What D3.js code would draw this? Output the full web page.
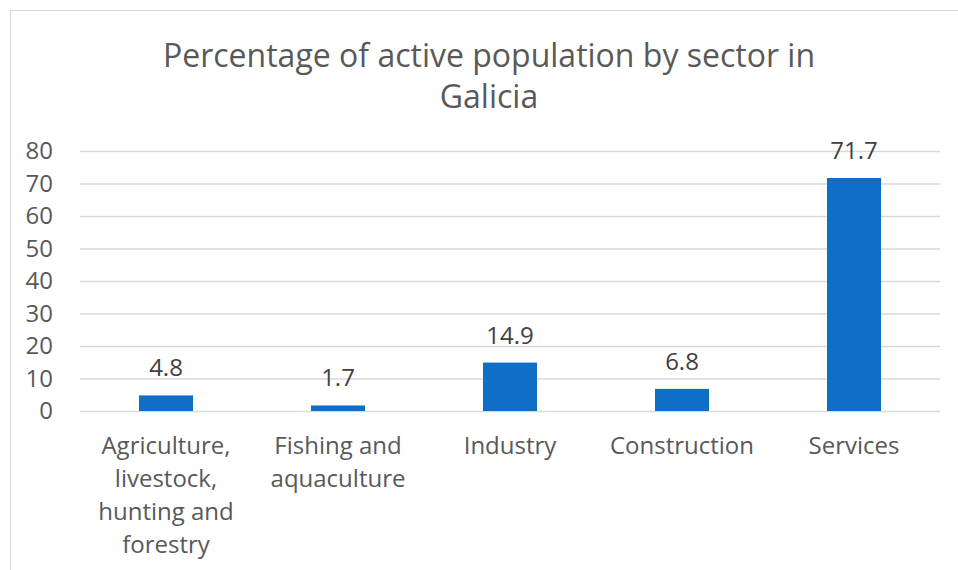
<!DOCTYPE html>
<html><head><meta charset="utf-8">
<script src="https://cdn.jsdelivr.net/npm/d3@7"></script>
<style>body{margin:0;background:#fff}svg{display:block}text{font-family:"Open Sans",sans-serif}</style>
</head><body>
<svg id="c" width="958" height="570"></svg>
<script>
const categories = [["Agriculture,","livestock,","hunting and","forestry"],["Fishing and","aquaculture"],["Industry"],["Construction"],["Services"]];
const values = [4.8, 1.7, 14.9, 6.8, 71.7];
const yTicks = [0,10,20,30,40,50,60,70,80];
const titleLines = ["Percentage of active population by sector in","Galicia"];

(function(){
const svg = d3.select("#c");
svg.append("rect").attr("x",10.5).attr("y",10.5).attr("width",958).attr("height",570).attr("fill","#fff").attr("stroke","#d9d9d9");

const pl=80, pr=940, pt=151, pb=411;
const x = d3.scaleBand().domain(categories.map((d,i)=>i)).range([pl,pr]).paddingInner(0.686).paddingOuter(0.343);
const y = d3.scaleLinear().domain([0,80]).range([pb,pt]);

const t = svg.append("text").attr("text-anchor","middle").attr("fill","#595959").attr("font-size",32);
titleLines.forEach((l,i)=>t.append("tspan").attr("x",489).attr("y",67+i*41).text(l));

const ya = svg.append("g").attr("transform",`translate(${pl},0)`)
  .call(d3.axisLeft(y).tickValues(yTicks).tickSize(-(pr-pl)).tickPadding(0));
ya.select(".domain").remove();
ya.selectAll(".tick line").attr("stroke","#d9d9d9").attr("stroke-width",1.3);
ya.selectAll(".tick text").attr("x",-27).attr("font-size",24).attr("fill","#595959").attr("font-family","Open Sans");

svg.selectAll("rect.bar").data(values).enter().append("rect").attr("class","bar")
  .attr("x",(d,i)=>x(i)).attr("width",x.bandwidth())
  .attr("y",d=>y(d)).attr("height",d=>y(0)-y(d)).attr("fill","#0f6fc6");

svg.selectAll("text.lbl").data(values).enter().append("text").attr("class","lbl")
  .attr("x",(d,i)=>x(i)+x.bandwidth()/2).attr("y",d=>y(d)-19)
  .attr("text-anchor","middle").attr("font-size",24).attr("fill","#404040").text(d=>d);

const xa = svg.append("g").attr("transform",`translate(0,${pb})`)
  .call(d3.axisBottom(x).tickSize(0).tickFormat(""));
xa.select(".domain").remove();
xa.selectAll(".tick").each(function(d){
  const tx = d3.select(this).append("text").attr("text-anchor","middle").attr("font-size",24).attr("fill","#595959").attr("font-family","Open Sans");
  categories[d].forEach((l,j)=>tx.append("tspan").attr("x",0).attr("y",43+j*33).text(l));
});
})();
</script>
</body></html>
